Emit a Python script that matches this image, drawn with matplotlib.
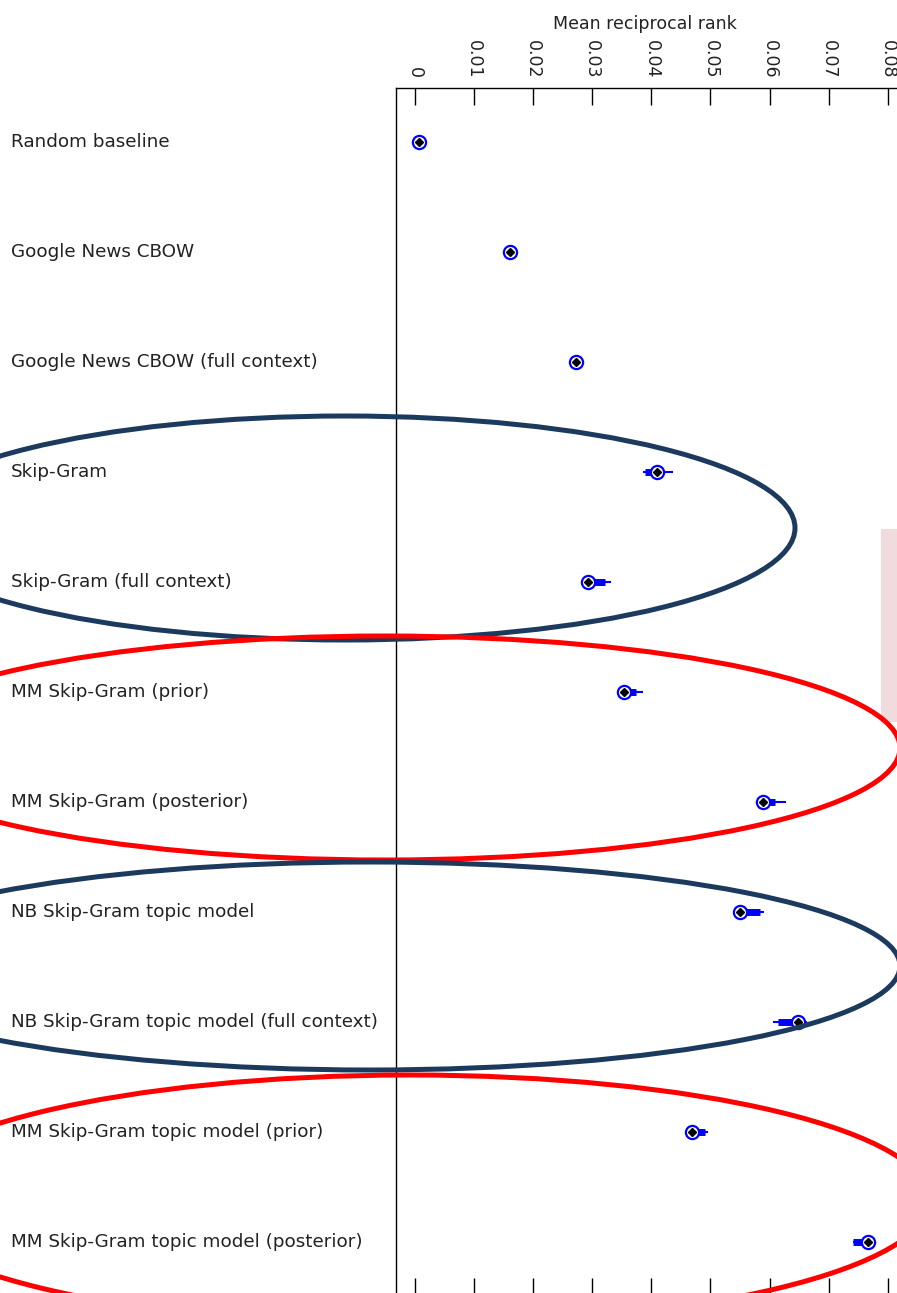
import numpy as np
import matplotlib
matplotlib.use("Agg")
import matplotlib.pyplot as plt
from matplotlib.patches import Ellipse, Rectangle

# data
models = ["Random baseline", "Google News CBOW", "Google News CBOW (full context)",
          "Skip-Gram", "Skip-Gram (full context)", "MM Skip-Gram (prior)",
          "MM Skip-Gram (posterior)", "NB Skip-Gram topic model",
          "NB Skip-Gram topic model (full context)", "MM Skip-Gram topic model (prior)",
          "MM Skip-Gram topic model (posterior)"]
mrr = [0.0007, 0.0161, 0.0273, 0.0410, 0.0292, 0.0354, 0.0589, 0.0550, 0.0648, 0.0469, 0.0767]
inner_lo = [0.0005, 0.0159, 0.0271, 0.0390, 0.0297, 0.0357, 0.0592, 0.0550, 0.0614, 0.0474, 0.0741]
inner_hi = [0.0009, 0.0163, 0.0275, 0.0407, 0.0322, 0.0374, 0.0609, 0.0584, 0.0638, 0.0491, 0.0758]
outer_lo = [0.0004, 0.0158, 0.0270, 0.0386, 0.0288, 0.0347, 0.0584, 0.0541, 0.0606, 0.0462, 0.0741]
outer_hi = [0.0010, 0.0164, 0.0276, 0.0437, 0.0331, 0.0386, 0.0628, 0.0591, 0.0663, 0.0496, 0.0775]
xticks = [0, 0.01, 0.02, 0.03, 0.04, 0.05, 0.06, 0.07, 0.08]
xtick_labels = ["0", "0.01", "0.02", "0.03", "0.04", "0.05", "0.06", "0.07", "0.08"]

W, H = 897, 1293
fig = plt.figure(figsize=(W / 100, H / 100), dpi=100)
plt.rcParams['font.family'] = ['DejaVu Sans']

# main axes (runs past the right and bottom edges like the cropped original)
left_px, top_px, right_px, bottom_px = 396, 88, 917, 1295
ax = fig.add_axes([left_px / W, 1 - bottom_px / H,
                   (right_px - left_px) / W, (bottom_px - top_px) / H])
y = np.arange(len(models))

ax.hlines(y, outer_lo, outer_hi, color='blue', lw=1.5, zorder=2)
ax.hlines(y, inner_lo, inner_hi, color='blue', lw=5, zorder=2)
ax.plot(mrr, y, 'o', ms=9.5, mfc='white', mec='blue', mew=1.6, zorder=3)
ax.plot(mrr, y, 'D', ms=4, color='black', zorder=4)

ax.set_xlim(-0.00321, (right_px - 415) / 5910)
ax.set_ylim((bottom_px - 142) / 110, (top_px - 142) / 110)

ax.xaxis.tick_top()
ax.set_xticks(xticks)
ax.set_xticklabels(xtick_labels, rotation=-90, fontsize=12.5, color='#222222')
ax.tick_params(axis='x', direction='in', length=12, width=1, top=True, bottom=True, pad=7)
ax.xaxis.set_label_position('top')
ax.set_xlabel("Mean reciprocal rank", fontsize=12.5, color='#222222')
ax.xaxis.set_label_coords((645 - left_px) / (right_px - left_px), 1.0485)

ax.set_yticks(y)
ax.set_yticklabels(models, fontsize=13.2, ha='left', color='#222222', va='center')
ax.tick_params(axis='y', length=0, pad=(left_px - 11) * 0.72)
for s in ['right', 'bottom']:
    ax.spines[s].set_visible(False)
for s in ['left', 'top']:
    ax.spines[s].set_linewidth(1)

# overlay in pixel coordinates for the hand-drawn highlights
ov = fig.add_axes([0, 0, 1, 1], zorder=5)
ov.set_xlim(0, W)
ov.set_ylim(H, 0)
ov.axis('off')
ov.patch.set_alpha(0)
ov.add_patch(Rectangle((881, 529), 30, 193, color='#f0dcdc', lw=0))
navy = '#1b3a5e'
ov.add_patch(Ellipse((345, 528), 900, 224, fill=False, ec=navy, lw=3.6))
ov.add_patch(Ellipse((385, 748), 1030, 224, fill=False, ec='#ff0000', lw=3.6))
ov.add_patch(Ellipse((370, 966), 1060, 208, fill=False, ec=navy, lw=3.6))
ov.add_patch(Ellipse((410, 1200), 1040, 250, fill=False, ec='#ff0000', lw=3.6))

fig.savefig("out.png", dpi=100)
